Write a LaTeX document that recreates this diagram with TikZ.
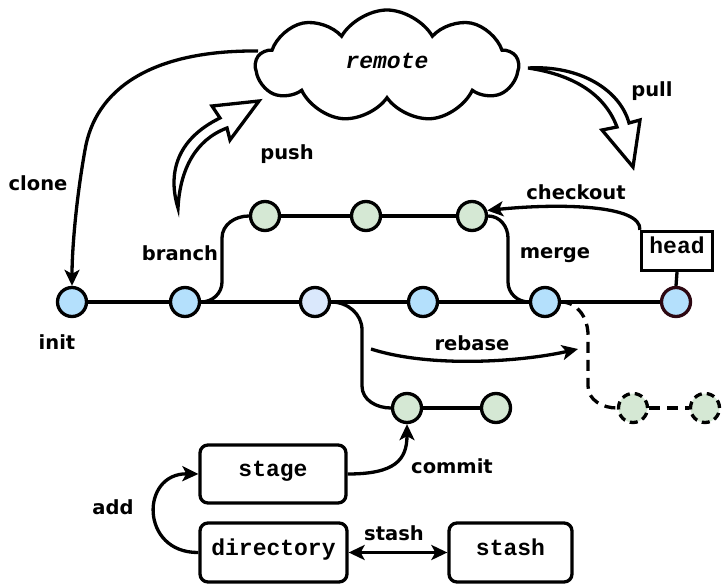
\documentclass[tikz,border=0pt]{standalone}
\usepackage{fontspec}
\setmainfont{DejaVu Sans}
\setmonofont{Liberation Mono}
\usetikzlibrary{arrows.meta,shapes.symbols}
\definecolor{cblue}{RGB}{180,224,252}
\definecolor{clight}{RGB}{218,232,252}
\definecolor{cgreen}{RGB}{213,232,212}
\definecolor{cmaroon}{RGB}{45,8,18}
\tikzset{
  lbl/.style={font=\bfseries\fontsize{19.5}{22}\selectfont, anchor=base, inner sep=0pt},
  mono/.style={font=\ttfamily\bfseries\fontsize{23}{26}\selectfont, text height=1ex, text depth=0pt},
  ln/.style={line width=3.3pt},
  arr/.style={line width=3.3pt, -{Stealth[length=16pt,width=15pt,inset=4pt]}},
  darr/.style={line width=3.3pt, {Stealth[length=16pt,width=15pt,inset=4pt]}-{Stealth[length=16pt,width=15pt,inset=4pt]}},
  commit/.style={circle, draw, line width=3.3pt, minimum size=29pt, inner sep=0pt},
  bc/.style={commit, fill=cblue},
  lc/.style={commit, fill=clight},
  gc/.style={commit, fill=cgreen},
  dc/.style={commit, fill=cgreen, dash pattern=on 8pt off 5pt},
  box/.style={mono, draw, line width=3.3pt, rounded corners=8pt, inner sep=0pt},
  hollow/.style={draw, fill=white, line width=3.3pt, line join=miter},
}
\begin{document}
\begin{tikzpicture}[x=1pt,y=-1pt]
\useasboundingbox (0,0) rectangle (723,585);

% cloud
\node[cloud, draw, line width=3.3pt, cloud puffs=9, cloud puff arc=120,
      minimum width=262pt, minimum height=112pt, aspect=2.5,
      font=\ttfamily\bfseries\itshape\fontsize{23}{26}\selectfont,
      text height=1ex, text depth=0pt] (remote) at (387,66) {remote};

% commits, main line
\node[bc] (i)  at (72,302) {};
\node[bc] (b)  at (185,302) {};
\node[lc] (c3) at (315,302) {};
\node[bc] (c4) at (423,302) {};
\node[bc] (m)  at (545,302) {};
\node[bc, draw=cmaroon] (h) at (676,302) {};
% top branch
\node[gc] (t1) at (265,216) {};
\node[gc] (t2) at (366,216) {};
\node[gc] (t3) at (472,216) {};
% bottom branch
\node[gc] (d1) at (407,408) {};
\node[gc] (d2) at (496,408) {};
% dashed
\node[dc] (x1) at (633,408) {};
\node[dc] (x2) at (705,408) {};

% head box
\node[box, rounded corners=0pt, minimum width=71pt, minimum height=39pt] (hb) at (677,251) {head};

% boxes
\node[box, minimum width=146pt, minimum height=58pt] (stage) at (273,474) {stage};
\node[box, minimum width=147pt, minimum height=59pt] (dir) at (273.5,552.5) {directory};
\node[box, minimum width=123pt, minimum height=59pt] (stash) at (510.5,552.5) {stash};

% main line
\draw[ln] (i) -- (b) -- (c3) -- (c4) -- (m) -- (h);
\draw[ln] (t1) -- (t2) -- (t3);
\draw[ln] (d1) -- (d2);
\draw[ln, dash pattern=on 11pt off 7pt] (x1) -- (x2);
\draw[ln] (hb.south) -- (h.north);

% branch curve
\draw[ln] (b.east) to[out=0,in=-90] (222,282) -- (222,238) to[out=90,in=180] (t1.west);
% merge curve
\draw[ln] (t3.east) to[out=0,in=90] (508,238) -- (508,282) to[out=-90,in=180] (m.west);
% bottom branch curve
\draw[ln] (c3.east) to[out=0,in=90] (362,330) -- (362,386) to[out=-90,in=180] (d1.west);
% dashed rebase target curve
\draw[ln, dash pattern=on 11pt off 7pt] (m.east) to[out=0,in=90] (588,335) -- (588,386) to[out=-90,in=180] (x1.west);

% checkout
\draw[arr] (hb.north west) .. controls (642,205) and (560,203) .. (t3.20);

% rebase
\coordinate (rb1) at (371,349);
\coordinate (rb2) at (578,349);
\draw[arr] (rb1) .. controls (430,368) and (520,362) .. (rb2);

% clone
\coordinate (cl) at (258,51);
\draw[arr] (cl) .. controls (150,50) and (95,90) .. (85,150) .. controls (76,200) and (72,250) .. (i.north);

% push (hollow arrow)
\draw[hollow] (178,208) .. controls (168,175) and (175,140) .. (220,118)
  -- (212,106) -- (259,101) -- (230,140) -- (227,128)
  .. controls (195,140) and (180,170) .. (178,208) -- cycle;
% pull (hollow arrow)
\draw[hollow] (528,68) .. controls (580,65) and (620,90) .. (629,123)
  -- (640,120) -- (633,167) -- (602,130) -- (617,127)
  .. controls (605,95) and (575,75) .. (528,68) -- cycle;

% bottom arrows
\draw[arr] (dir.west) .. controls (140,553) and (140,473) .. (stage.west);
\draw[arr] (stage.east) .. controls (395,474) and (407,460) .. (d1.south);
\draw[darr] (dir.east) -- (stash.west);

% labels
\node[lbl] (lclone) at (38,191) {clone};
\node[lbl] (linit) at (57,349) {init};
\node[lbl] (lbranch) at (180,261) {branch};
\node[lbl] (lpush) at (287,160) {push};
\node[lbl] (lpull) at (652,97) {pull};
\node[lbl] (lcheckout) at (576,200) {checkout};
\node[lbl] (lmerge) at (555,259) {merge};
\node[lbl] (lrebase) at (472,351) {rebase};
\node[lbl] (lcommit) at (452,473) {commit};
\node[lbl] (ladd) at (113,514) {add};
\node[lbl] (lstash) at (394,540) {stash};
\end{tikzpicture}
\end{document}
